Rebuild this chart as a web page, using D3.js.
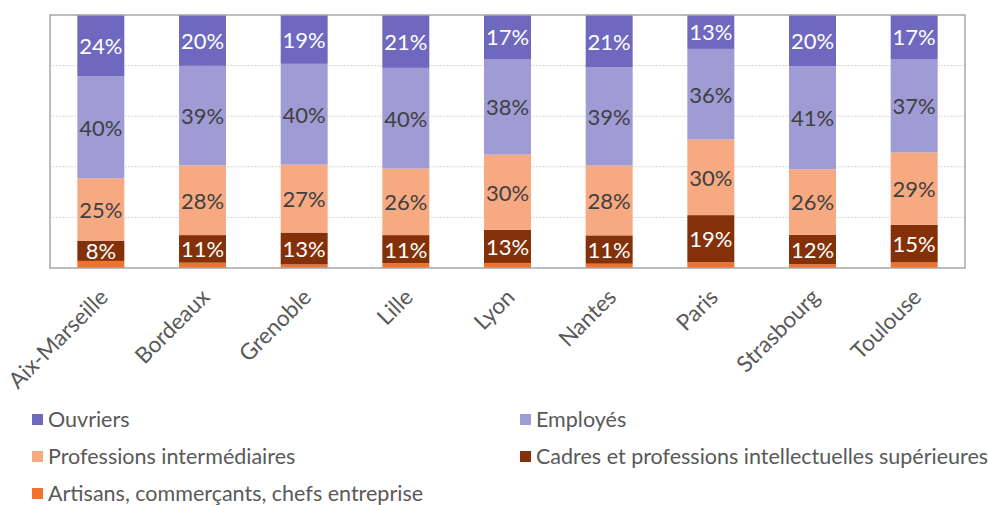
<!DOCTYPE html>
<html>
<head>
<meta charset="utf-8">
<script src="https://cdn.jsdelivr.net/npm/d3@7"></script>
<style>
  body { margin: 0; background: #fff; }
  text { font-family: Lato, "Open Sans", sans-serif; }
</style>
</head>
<body>
<main></main>
<script>
// Villes (ordre de l'axe x)
const cities = ["Aix-Marseille", "Bordeaux", "Grenoble", "Lille", "Lyon", "Nantes", "Paris", "Strasbourg", "Toulouse"];

// Categories, du bas vers le haut de la pile
const categories = [
    "Artisans, commerçants, chefs entreprise",
    "Cadres et professions intellectuelles supérieures",
    "Professions intermédiaires",
    "Employés",
    "Ouvriers"
];

// Parts en %
const artisans  = [2.8, 2.1, 1.4, 1.9, 2.0, 1.7, 2.3, 1.5, 2.2];
const cadres    = [8.0, 10.9, 12.6, 11.1, 13.1, 11.2, 18.6, 11.6, 14.9];
const profInter = [24.7, 27.6, 26.9, 26.3, 29.7, 27.6, 29.9, 25.9, 28.6];
const employes  = [40.3, 39.3, 39.8, 39.8, 37.8, 38.8, 35.8, 40.7, 36.9];
const ouvriers  = [24.2, 20.1, 19.3, 20.9, 17.4, 20.7, 13.4, 20.3, 17.4];

// Legend order (rows, 2 columns)
const legendOrder = [
    "Ouvriers", "Employés",
    "Professions intermédiaires", "Cadres et professions intellectuelles supérieures",
    "Artisans, commerçants, chefs entreprise"
];

const seriesValues = [artisans, cadres, profInter, employes, ouvriers];

const colors = {
    "Artisans, commerçants, chefs entreprise": "#f3722e",
    "Cadres et professions intellectuelles supérieures": "#843109",
    "Professions intermédiaires": "#f7a982",
    "Employés": "#9f9bd5",
    "Ouvriers": "#6e69bf"
};
const labelColors = {
    "Cadres et professions intellectuelles supérieures": "#ffffff",
    "Professions intermédiaires": "#404040",
    "Employés": "#404040",
    "Ouvriers": "#ffffff"
};

const width = 988, height = 505;
const margin = { top: 15, right: 23, bottom: 237, left: 50 };

// table for d3.stack
const table = cities.map((c, i) => {
    const row = { city: c };
    categories.forEach((k, j) => row[k] = seriesValues[j][i]);
    return row;
});

const stacked = d3.stack()
    .keys(categories)
    .offset(d3.stackOffsetExpand)(table);

const svg = d3.select("main").append("svg")
    .attr("width", width)
    .attr("height", height);

const x = d3.scaleBand()
    .domain(cities)
    .range([margin.left, width - margin.right])
    .paddingInner(0.538)
    .paddingOuter(0.269);

const y = d3.scaleLinear()
    .domain([0, 1])
    .range([height - margin.bottom, margin.top]);

// gridlines
svg.append("g")
    .selectAll("line")
    .data([0.2, 0.4, 0.6, 0.8])
    .join("line")
    .attr("x1", margin.left)
    .attr("x2", width - margin.right)
    .attr("y1", d => y(d))
    .attr("y2", d => y(d))
    .attr("stroke", "#d9d9d9")
    .attr("stroke-width", 1)
    .attr("stroke-dasharray", "2,1");

// bars
const layers = svg.append("g").attr("id", "bars")
    .selectAll("g")
    .data(stacked)
    .join("g")
    .attr("fill", d => colors[d.key]);

layers.selectAll("rect")
    .data(d => d)
    .join("rect")
    .attr("x", d => x(d.data.city))
    .attr("width", x.bandwidth())
    .attr("y", d => y(d[1]))
    .attr("height", d => y(d[0]) - y(d[1]));

// data labels (not on artisans)
const labelled = stacked.filter(s => s.key !== categories[0]);
svg.append("g")
    .selectAll("g")
    .data(labelled)
    .join("g")
    .attr("fill", d => labelColors[d.key])
    .selectAll("text")
    .data(d => d.map(v => ({ v: v, key: d.key })))
    .join("text")
    .attr("x", d => x(d.v.data.city) + x.bandwidth() / 2)
    .attr("y", d => (y(d.v[0]) + y(d.v[1])) / 2)
    .attr("dy", "0.38em")
    .attr("text-anchor", "middle")
    .attr("font-size", 22)
    .text(d => Math.round(d.v.data[d.key]) + "%");

// plot border
svg.append("rect")
    .attr("x", margin.left)
    .attr("y", margin.top)
    .attr("width", width - margin.left - margin.right)
    .attr("height", height - margin.top - margin.bottom)
    .attr("fill", "none")
    .attr("stroke", "#a6a6a6")
    .attr("stroke-width", 1.5);

// x axis labels
const xAxis = svg.append("g")
    .attr("transform", "translate(0," + (height - margin.bottom) + ")")
    .call(d3.axisBottom(x).tickSize(0).tickPadding(0));
xAxis.select(".domain").remove();
xAxis.selectAll("text")
    .attr("font-size", 22.5)
    .attr("fill", "#595959")
    .attr("text-anchor", "end")
    .attr("dy", "0.35em")
    .attr("transform", "translate(3,25) rotate(-45)");

// legend
const legend = svg.append("g")
    .selectAll("g")
    .data(legendOrder)
    .join("g")
    .attr("transform", (d, i) => "translate(" + (i % 2 === 0 ? 32 : 520) + "," + (419 + Math.floor(i / 2) * 37) + ")");

legend.append("rect")
    .attr("x", 0)
    .attr("y", -5)
    .attr("width", 11)
    .attr("height", 11)
    .attr("fill", d => colors[d]);

legend.append("text")
    .attr("x", 16)
    .attr("dy", "0.35em")
    .attr("font-size", 21.5)
    .attr("fill", "#595959")
    .text(d => d);
</script>
</body>
</html>
